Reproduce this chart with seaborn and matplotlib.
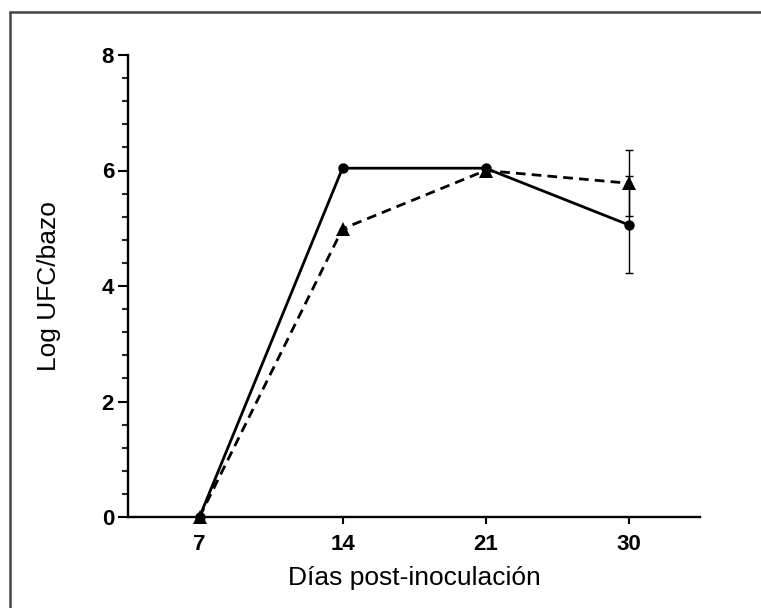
import matplotlib
matplotlib.use("Agg")
import matplotlib.pyplot as plt
from matplotlib.lines import Line2D
from matplotlib.ticker import MultipleLocator
import seaborn as sns
import pandas as pd

# Data
days = ["7", "14", "21", "30"]
circle_vals = [0.0, 6.04, 6.04, 5.06]
circle_err = [0.0, 0.0, 0.0, 0.84]
triangle_vals = [0.0, 4.99, 6.0, 5.78]
triangle_err = [0.0, 0.0, 0.0, 0.57]
y_ticks = [0, 2, 4, 6, 8]

sns.set_theme(style="ticks")
plt.rcParams['font.family'] = ['Liberation Sans', 'DejaVu Sans']
plt.rcParams['text.color'] = 'black'
plt.rcParams['axes.labelcolor'] = 'black'

fig = plt.figure(figsize=(7.61, 6.08), dpi=100)
ax = fig.add_axes([128/761, 91/608, (700-128)/761, (517-55)/608])

df_c = pd.DataFrame({"day": days, "val": circle_vals})
df_t = pd.DataFrame({"day": days, "val": triangle_vals})

sns.lineplot(data=df_c, x="day", y="val", ax=ax, color="black", lw=2.0,
             marker="o", markersize=7.5, markeredgewidth=0, sort=False, zorder=3,
             clip_on=False)
sns.lineplot(data=df_t, x="day", y="val", ax=ax, color="black", lw=2.0,
             marker="^", markersize=9.5, markeredgewidth=0, sort=False,
             linestyle=(0, (3.5, 2.2)), zorder=3, clip_on=False)
ax.errorbar(days, circle_vals, yerr=circle_err, fmt="none", ecolor="black",
            elinewidth=1.0, capsize=3, capthick=1.0, zorder=2)
ax.errorbar(days, triangle_vals, yerr=triangle_err, fmt="none", ecolor="black",
            elinewidth=1.0, capsize=3, capthick=1.0, zorder=2)

ax.set_xlim(-0.5, 3.5)
ax.set_ylim(0, 8)
ax.set_yticks(y_ticks)
ax.yaxis.set_minor_locator(MultipleLocator(0.4))
for s in ["top", "right"]:
    ax.spines[s].set_visible(False)
for s in ["left", "bottom"]:
    ax.spines[s].set_linewidth(1.7)
    ax.spines[s].set_color("black")
ax.tick_params(axis="y", which="major", direction="out", length=7, width=1.5,
               pad=3, labelsize=16, colors="black")
ax.tick_params(axis="y", which="minor", direction="out", length=4, width=1.5)
ax.tick_params(axis="x", which="major", direction="out", length=5, width=1.5,
               pad=7, labelsize=16, colors="black")
for lab in ax.get_xticklabels() + ax.get_yticklabels():
    lab.set_fontweight("bold")

ax.set_xlabel("Días post-inoculación", fontsize=19)
ax.set_ylabel("Log UFC/bazo", fontsize=19)
ax.xaxis.set_label_coords(0.5, -0.107)
ax.yaxis.set_label_coords(-0.117, 0.5)

# frame lines (top and left only)
fig.add_artist(Line2D([10/761, 10/761], [0, 1 - 12/608], transform=fig.transFigure,
                      color="#444444", lw=1.8))
fig.add_artist(Line2D([10/761, 1], [1 - 12/608, 1 - 12/608], transform=fig.transFigure,
                      color="#444444", lw=1.8))

fig.savefig("out.png", dpi=100)
